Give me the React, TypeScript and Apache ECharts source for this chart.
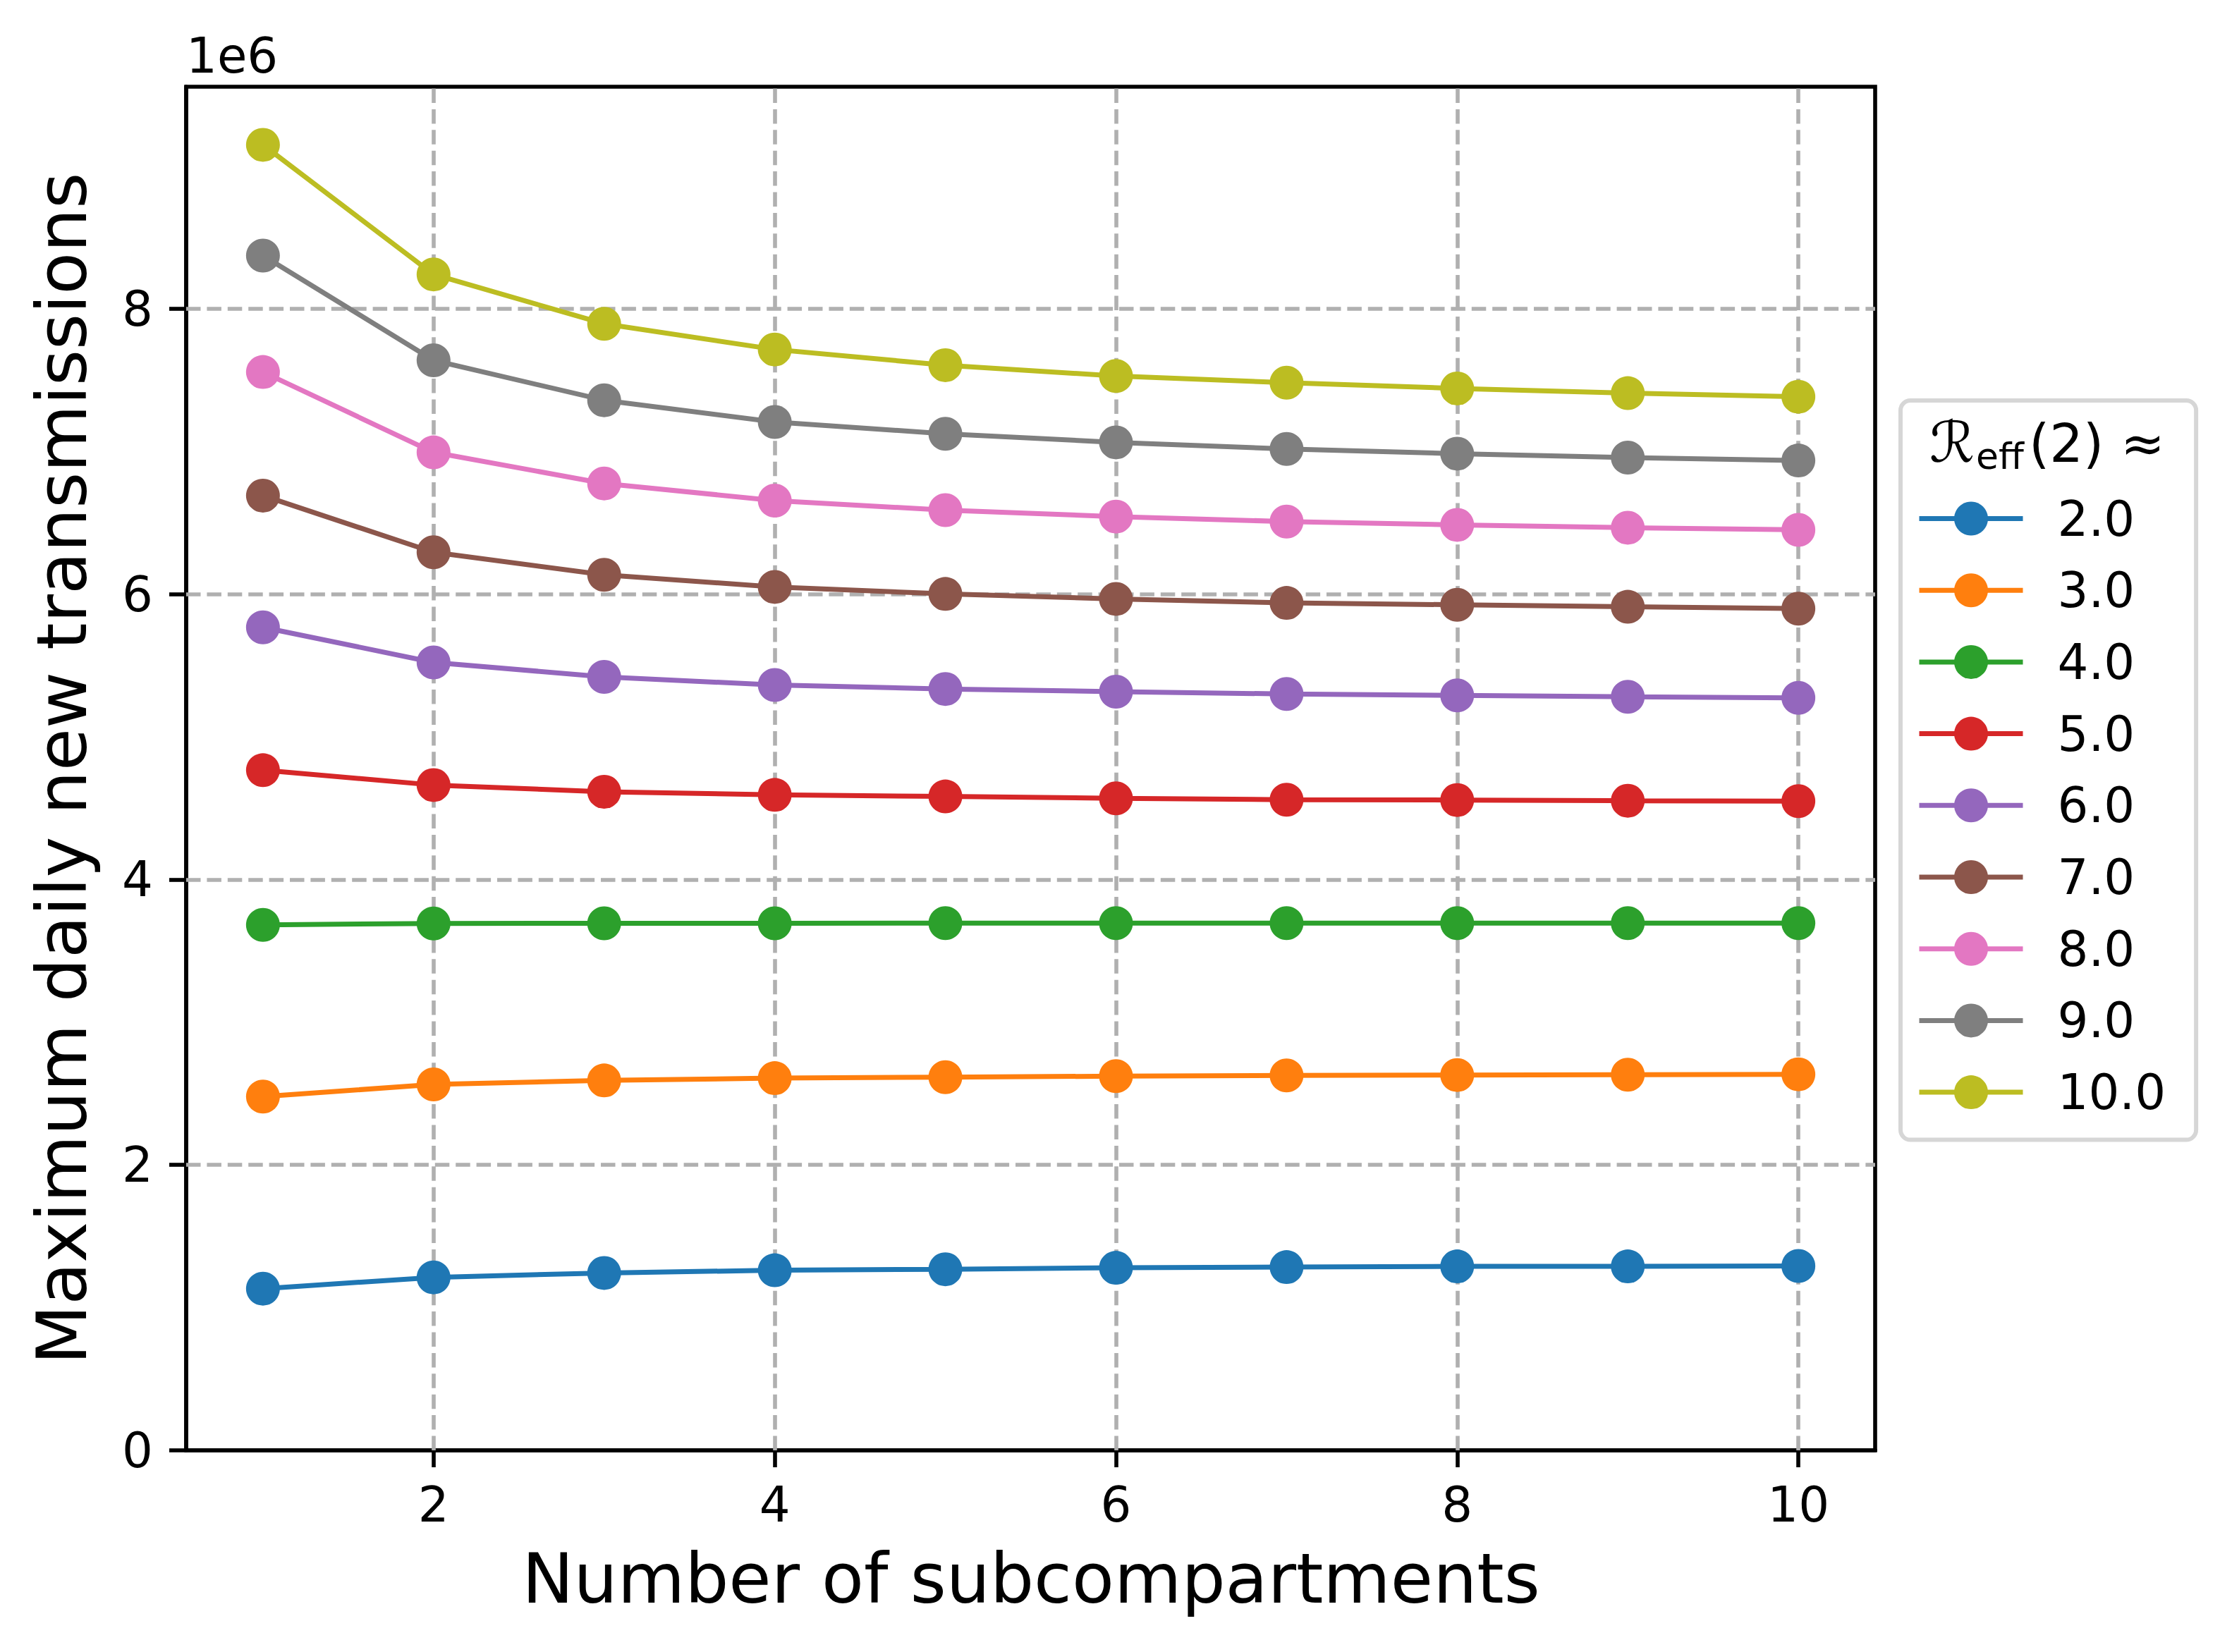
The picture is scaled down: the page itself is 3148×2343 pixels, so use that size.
import React, { useEffect, useRef } from "react";
import * as echarts from "echarts";

const W = 3148;
const H = 2343;
const FONT = "DejaVu Sans";

// x: number of subcompartments
const subcompartments = [1, 2, 3, 4, 5, 6, 7, 8, 9, 10];

// legend labels: R_eff(2) ≈ ...
const reffLabels = ["2.0", "3.0", "4.0", "5.0", "6.0", "7.0", "8.0", "9.0", "10.0"];

// maximum daily new transmissions
const reff2 = [1.133e6, 1.212e6, 1.243e6, 1.262e6, 1.269e6, 1.279e6, 1.284e6, 1.289e6, 1.289e6, 1.292e6];
const reff3 = [2.479e6, 2.564e6, 2.592e6, 2.608e6, 2.615e6, 2.622e6, 2.627e6, 2.63e6, 2.632e6, 2.635e6];
const reff4 = [3.682e6, 3.692e6, 3.693e6, 3.693e6, 3.694e6, 3.694e6, 3.694e6, 3.694e6, 3.694e6, 3.694e6];
const reff5 = [4.766e6, 4.662e6, 4.615e6, 4.593e6, 4.582e6, 4.569e6, 4.559e6, 4.557e6, 4.552e6, 4.549e6];
const reff6 = [5.767e6, 5.521e6, 5.42e6, 5.363e6, 5.335e6, 5.316e6, 5.3e6, 5.29e6, 5.28e6, 5.273e6];
const reff7 = [6.69e6, 6.293e6, 6.135e6, 6.05e6, 6.001e6, 5.966e6, 5.938e6, 5.925e6, 5.911e6, 5.898e6];
const reff8 = [7.556e6, 6.993e6, 6.775e6, 6.655e6, 6.588e6, 6.543e6, 6.508e6, 6.485e6, 6.465e6, 6.45e6];
const reff9 = [8.372e6, 7.638e6, 7.358e6, 7.206e6, 7.123e6, 7.063e6, 7.017e6, 6.984e6, 6.956e6, 6.936e6];
const reff10 = [9.148e6, 8.24e6, 7.894e6, 7.714e6, 7.604e6, 7.528e6, 7.481e6, 7.441e6, 7.408e6, 7.383e6];

const seriesValues = [reff2, reff3, reff4, reff5, reff6, reff7, reff8, reff9, reff10];

const colors = [
  "#1f77b4",
  "#ff7f0e",
  "#2ca02c",
  "#d62728",
  "#9467bd",
  "#8c564b",
  "#e377c2",
  "#7f7f7f",
  "#bcbd22",
];

// axis ticks
const xTicks = [2, 4, 6, 8, 10];
const yTicks = [0, 2e6, 4e6, 6e6, 8e6];
const yGridTicks = [2e6, 4e6, 6e6, 8e6];
const xRange = [0.55, 10.45];
const yRange = [0, 9.555e6];

// place text by its alphabetic baseline (zrender svg uses a central baseline)
const mid = (baseline: number, fs: number) => baseline - 0.346 * fs;

function buildOption(): any {
  const lineSeries = seriesValues.map((vals, i) => ({
    type: "line",
    name: reffLabels[i],
    data: subcompartments.map((x, j) => [x, vals[j]]),
    symbol: "circle",
    symbolSize: 48,
    showSymbol: true,
    z: 3,
    lineStyle: { color: colors[i], width: 7 },
    itemStyle: { color: colors[i] },
    emphasis: { disabled: true },
    silent: true,
  }));

  const gridSeries = {
    type: "line",
    name: "_grid",
    data: [],
    z: 1,
    silent: true,
    markLine: {
      silent: true,
      z: 1,
      symbol: ["none", "none"],
      label: { show: false },
      emphasis: { disabled: true },
      lineStyle: { color: "#b0b0b0", width: 5.6, type: [20.5, 8.9] },
      data: [
        ...xTicks.map((v) => ({ xAxis: v })),
        ...yGridTicks.map((v) => ({ yAxis: v })),
      ],
    },
  };

  return {
    animation: false,
    backgroundColor: "#ffffff",
    textStyle: { fontFamily: FONT },
    grid: {
      left: 264,
      right: W - 2659,
      top: 123,
      bottom: H - 2057,
      show: true,
      borderColor: "#000000",
      borderWidth: 5.6,
      backgroundColor: "transparent",
      containLabel: false,
    },
    xAxis: {
      type: "value",
      min: xRange[0],
      max: xRange[1],
      splitLine: { show: false },
      axisLine: { show: true, onZero: false, lineStyle: { color: "#000", width: 5.6 } },
      axisTick: {
        show: true,
        inside: false,
        length: 24,
        customValues: xTicks,
        lineStyle: { color: "#000", width: 5.6 },
      },
      axisLabel: {
        show: true,
        customValues: xTicks,
        margin: 51.5,
        fontSize: 69,
        lineHeight: 50,
        fontFamily: FONT,
        color: "#000",
        formatter: (v: number) => (Number.isInteger(v) ? String(v) : ""),
      },
    },
    yAxis: {
      type: "value",
      min: yRange[0],
      max: yRange[1],
      splitLine: { show: false },
      axisLine: { show: true, onZero: false, lineStyle: { color: "#000", width: 5.6 } },
      axisTick: {
        show: true,
        inside: false,
        length: 24,
        customValues: yTicks,
        lineStyle: { color: "#000", width: 5.6 },
      },
      axisLabel: {
        show: true,
        customValues: yTicks,
        margin: 47,
        fontSize: 69,
        fontFamily: FONT,
        color: "#000",
        formatter: (v: number) => (v % 2e6 === 0 && v <= 8e6 ? String(v / 1e6) : ""),
      },
    },
    legend: {
      show: true,
      data: reffLabels,
      orient: "vertical",
      left: 2695,
      top: 568,
      padding: [133, 43, 33, 23],
      itemWidth: 147,
      itemHeight: 60,
      itemGap: 32.7,
      selectedMode: false,
      backgroundColor: "#ffffff",
      borderColor: "#d6d6d6",
      borderWidth: 6,
      borderRadius: 14,
      lineStyle: { width: 7 },
      textStyle: {
        fontSize: 69,
        fontFamily: FONT,
        color: "#000",
        padding: [0, 0, 0, 44],
      },
    },
    graphic: [
      {
        type: "text",
        z: 100,
        x: 264,
        y: mid(103, 69),
        style: { text: "1e6", fontSize: 69, fontFamily: FONT, fill: "#000", align: "left", verticalAlign: "middle" },
      },
      {
        type: "text",
        z: 100,
        x: 1462,
        y: mid(2273, 98),
        style: {
          text: "Number of subcompartments",
          fontSize: 98,
          lineHeight: 80,
          fontFamily: FONT,
          fill: "#000",
          align: "center",
          verticalAlign: "middle",
        },
      },
      {
        type: "text",
        z: 100,
        x: mid(122, 98),
        y: 1090,
        rotation: Math.PI / 2,
        style: {
          text: "Maximum daily new transmissions",
          fontSize: 98,
          lineHeight: 80,
          fontFamily: FONT,
          fill: "#000",
          align: "center",
          verticalAlign: "middle",
        },
      },
      {
        type: "text",
        z: 100,
        x: 2736,
        y: mid(655, 80),
        style: { text: "ℛ", fontSize: 80, fontFamily: FONT, fontStyle: "italic", fill: "#000", align: "left", verticalAlign: "middle" },
      },
      {
        type: "text",
        z: 100,
        x: 2802,
        y: mid(665, 52),
        style: { text: "eff", fontSize: 52, fontFamily: FONT, fill: "#000", align: "left", verticalAlign: "middle" },
      },
      {
        type: "text",
        z: 100,
        x: 2877,
        y: mid(655, 75),
        style: { text: "(2) ≈", fontSize: 75, fontFamily: FONT, fill: "#000", align: "left", verticalAlign: "middle" },
      },
    ],
    series: [gridSeries, ...lineSeries],
  };
}

export default function App() {
  const ref = useRef<HTMLDivElement>(null);
  useEffect(() => {
    document.body.style.margin = "0";
    const chart = echarts.init(ref.current as HTMLDivElement, null, { renderer: "svg", width: W, height: H });
    chart.setOption(buildOption());
    return () => {
      chart.dispose();
    };
  }, []);
  return (
    <div
      ref={ref}
      style={{ position: "absolute", left: 0, top: 0, width: W, height: H, background: "#ffffff" }}
    />
  );
}
